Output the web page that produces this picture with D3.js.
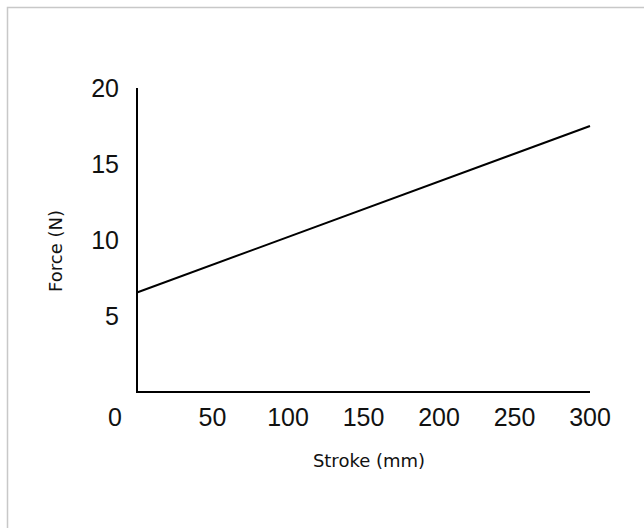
<!DOCTYPE html>
<html><head><meta charset="utf-8">
<script src="https://cdn.jsdelivr.net/npm/d3@7"></script>
<style>body{margin:0;background:#fff}</style>
</head><body>
<svg id="c" width="644" height="528"></svg>
<script>
const strokeMm = [0, 300];
const forceN = [6.55, 17.5];
const xTicks = [0, 50, 100, 150, 200, 250, 300];
const yTicks = [5, 10, 15, 20];
const xTitle = "Stroke (mm)";
const yTitle = "Force (N)";

const svg = d3.select("#c");
// outer frame (top/left visible)
svg.append("rect").attr("x",7.5).attr("y",7.5).attr("width",700).attr("height",700)
  .attr("fill","none").attr("stroke","#c8c8c8").attr("stroke-width",1.5);

const x = d3.scaleLinear().domain([0,300]).range([137,590]);
const y = d3.scaleLinear().domain([0,20]).range([392,88]);

const tickFont = "'Liberation Sans', Arial, sans-serif";
const titleFont = "'DejaVu Sans', sans-serif";

// axes lines
svg.append("line").attr("x1",x(0)).attr("x2",x(0)).attr("y1",y(20)).attr("y2",y(0))
  .attr("stroke","#000").attr("stroke-width",2);
svg.append("line").attr("x1",x(0)-1).attr("x2",x(300)).attr("y1",y(0)).attr("y2",y(0))
  .attr("stroke","#000").attr("stroke-width",2);

// y tick labels
svg.append("g").selectAll("text").data(yTicks).join("text")
  .attr("x",119).attr("y",d=>y(d)).attr("dy","0.35em")
  .attr("text-anchor","end").attr("font-family",tickFont).attr("font-size",25)
  .attr("fill","#111").text(d=>d);

// x tick labels
svg.append("g").selectAll("text").data(xTicks).join("text")
  .attr("x",d=>d===0 ? x(0)-22 : x(d)).attr("y",y(0)+25).attr("dy","0.35em")
  .attr("text-anchor","middle").attr("font-family",tickFont).attr("font-size",25)
  .attr("fill","#111").text(d=>d);

// line
const pts = strokeMm.map((s,i)=>[s, forceN[i]]);
svg.append("path").datum(pts)
  .attr("d", d3.line().x(d=>x(d[0])).y(d=>y(d[1])))
  .attr("fill","none").attr("stroke","#000").attr("stroke-width",2);

// titles
svg.append("text").attr("x",369).attr("y",467).attr("text-anchor","middle")
  .attr("font-family",titleFont).attr("font-size",18).attr("fill","#111").text(xTitle);
svg.append("text").attr("transform","translate(62,251) rotate(-90)").attr("text-anchor","middle")
  .attr("font-family",titleFont).attr("font-size",18).attr("fill","#111").text(yTitle);
</script>
</body></html>
